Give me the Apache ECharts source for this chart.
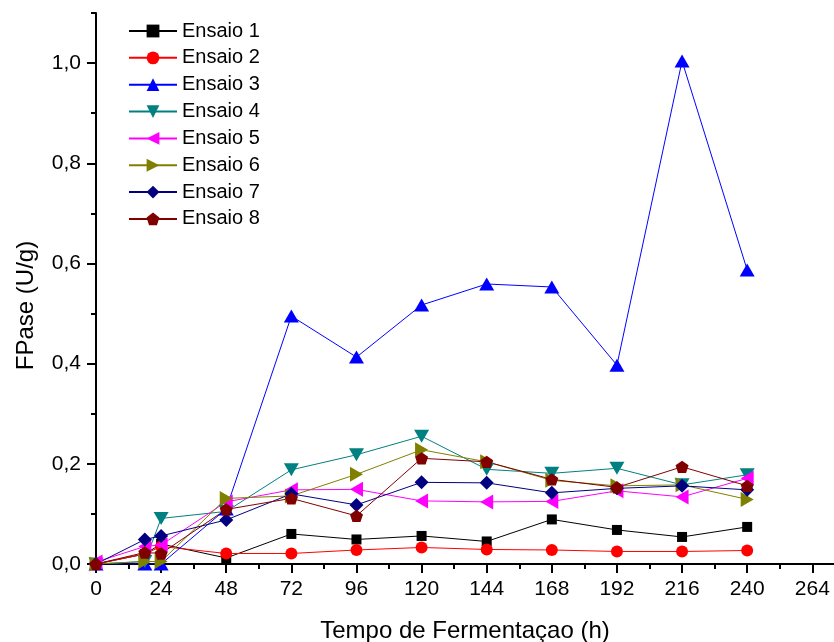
<!DOCTYPE html>
<html>
<head>
<meta charset="utf-8">
<script src="https://cdn.jsdelivr.net/npm/echarts@6/dist/echarts.min.js"></script>
<style>html,body{margin:0;padding:0;background:#fff}#c{width:834px;height:642px}</style>
</head>
<body>
<div id="c"></div>
<script>
const hours = [0, 18, 24, 48, 72, 96, 120, 144, 168, 192, 216, 240];
const ensaio1 = [0, 0.02, 0.04, 0.012, 0.060, 0.049, 0.056, 0.045, 0.089, 0.068, 0.054, 0.074];
const ensaio2 = [0, 0.02, 0.035, 0.021, 0.021, 0.028, 0.033, 0.029, 0.028, 0.025, 0.025, 0.027];
const ensaio3 = [0, 0.0, 0.0, 0.11, 0.495, 0.413, 0.517, 0.559, 0.553, 0.397, 1.004, 0.587];
const ensaio4 = [0, 0.005, 0.091, 0.105, 0.188, 0.218, 0.255, 0.189, 0.181, 0.191, 0.158, 0.178];
const ensaio5 = [0.004, 0.035, 0.038, 0.124, 0.148, 0.149, 0.126, 0.124, 0.125, 0.146, 0.134, 0.171];
const ensaio6 = [0, 0.005, 0.005, 0.131, 0.136, 0.179, 0.228, 0.204, 0.167, 0.156, 0.158, 0.129];
const ensaio7 = [0, 0.049, 0.056, 0.088, 0.140, 0.118, 0.163, 0.162, 0.142, 0.151, 0.156, 0.148];
const ensaio8 = [0, 0.023, 0.021, 0.109, 0.131, 0.096, 0.211, 0.204, 0.169, 0.153, 0.194, 0.156];
const seriesNames = ['Ensaio 1','Ensaio 2','Ensaio 3','Ensaio 4','Ensaio 5','Ensaio 6','Ensaio 7','Ensaio 8'];
const xMajorTicks = [0, 24, 48, 72, 96, 120, 144, 168, 192, 216, 240, 264];
const xMinorTicks = [12, 36, 60, 84, 108, 132, 156, 180, 204, 228, 252];
const yMajorTicks = [0, 0.2, 0.4, 0.6, 0.8, 1.0];
const yMinorTicks = [0.1, 0.3, 0.5, 0.7, 0.9, 1.1];

const allData = [ensaio1, ensaio2, ensaio3, ensaio4, ensaio5, ensaio6, ensaio7, ensaio8];
const colors = ['#000000', '#ff0000', '#0000ff', '#008080', '#ff00ff', '#808000', '#000080', '#800000'];
const pentagon = 'path://M0,-10 L9.511,-3.09 L5.878,8.09 L-5.878,8.09 L-9.511,-3.09 Z';
const symbols = [
  {symbol: 'rect', size: 10, rot: 0},
  {symbol: 'circle', size: 12, rot: 0},
  {symbol: 'triangle', size: [15, 13], rot: 0},
  {symbol: 'triangle', size: [15, 13], rot: 180},
  {symbol: 'triangle', size: [15, 13], rot: 90},
  {symbol: 'triangle', size: [15, 13], rot: -90},
  {symbol: 'diamond', size: 14, rot: 0},
  {symbol: pentagon, size: 13, rot: 0}
];
const FONT = 'Liberation Sans, Arial, sans-serif';

const series = allData.map((arr, i) => ({
  name: seriesNames[i],
  type: 'line',
  xAxisIndex: 0,
  yAxisIndex: 0,
  data: hours.map((h, j) => [h, arr[j]]),
  symbol: symbols[i].symbol,
  symbolSize: symbols[i].size,
  symbolRotate: symbols[i].rot,
  symbolKeepAspect: true,
  showAllSymbol: true,
  color: colors[i],
  itemStyle: {color: colors[i], opacity: 1},
  lineStyle: {color: colors[i], width: 1},
  emphasis: {disabled: true},
  animation: false
}));

const chart = echarts.init(document.getElementById('c'), null, {renderer: 'canvas'});
chart.setOption({
  backgroundColor: '#ffffff',
  animation: false,
  grid: {left: 96, right: 0, top: 13, bottom: 78, containLabel: false, outerBoundsMode: 'none'},
  legend: {
    orient: 'vertical',
    left: 128,
    top: 21,
    padding: 0,
    itemWidth: 48,
    itemHeight: 16,
    itemGap: 6.85,
    textStyle: {fontFamily: FONT, fontSize: 20, color: '#000', lineHeight: 16},
    data: seriesNames
  },
  xAxis: [{
    type: 'value', min: 0, max: 272, position: 'bottom',
    name: 'Tempo de Fermentaçao (h)', nameLocation: 'middle', nameGap: 55,
    nameTextStyle: {fontFamily: FONT, fontSize: 24, color: '#000'},
    axisLine: {show: true, onZero: false, lineStyle: {color: '#000', width: 2}},
    axisTick: {show: true, inside: false, length: 9, lineStyle: {color: '#000', width: 2}, customValues: xMajorTicks},
    axisLabel: {show: true, margin: 15, fontFamily: FONT, fontSize: 21, color: '#000', customValues: xMajorTicks},
    splitLine: {show: false}
  }, {
    type: 'value', min: 0, max: 272, position: 'bottom',
    axisLine: {show: false, onZero: false},
    axisTick: {show: true, inside: false, length: 5, lineStyle: {color: '#000', width: 2}, customValues: xMinorTicks},
    axisLabel: {show: false},
    splitLine: {show: false}
  }],
  yAxis: [{
    type: 'value', min: 0, max: 1.1, position: 'left',
    name: 'FPase (U/g)', nameLocation: 'middle', nameGap: 58, nameRotate: 90,
    nameTextStyle: {fontFamily: FONT, fontSize: 24, color: '#000', padding: [0, 34, 0, 0]},
    axisLine: {show: true, onZero: false, lineStyle: {color: '#000', width: 2}},
    axisTick: {show: true, inside: false, length: 9, lineStyle: {color: '#000', width: 2}, customValues: yMajorTicks},
    axisLabel: {show: true, margin: 15, fontFamily: FONT, fontSize: 21, color: '#000', customValues: yMajorTicks,
      formatter: v => v.toFixed(1).replace('.', ',')},
    splitLine: {show: false}
  }, {
    type: 'value', min: 0, max: 1.1, position: 'left',
    axisLine: {show: false, onZero: false},
    axisTick: {show: true, inside: false, length: 5, lineStyle: {color: '#000', width: 2}, customValues: yMinorTicks},
    axisLabel: {show: false},
    splitLine: {show: false}
  }],
  series: series
});
</script>
</body>
</html>
